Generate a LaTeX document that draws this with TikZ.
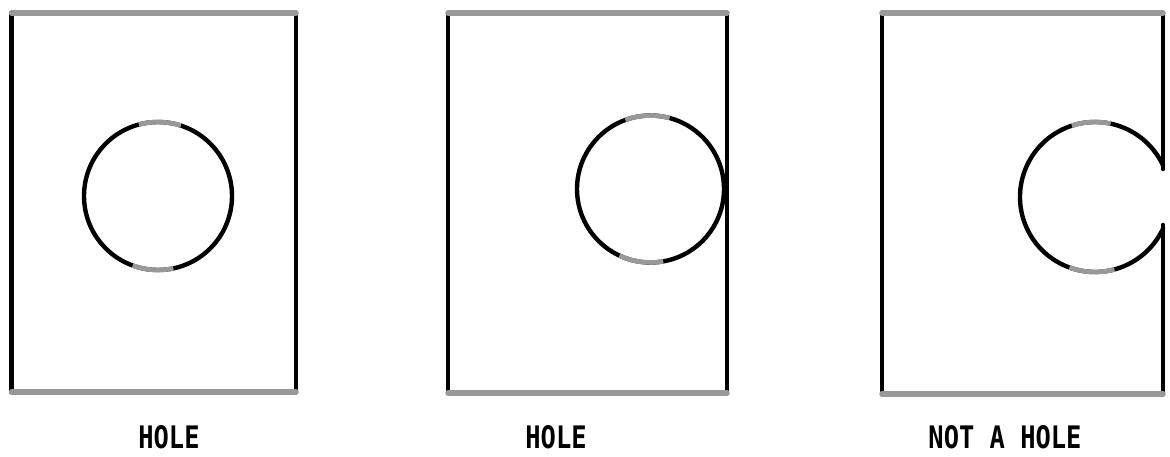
\documentclass[tikz,border=0pt]{standalone}
\usepackage{fontspec}
\newfontfamily\lblfont{DejaVu Sans Mono}[BoldFont={DejaVu Sans Mono Bold}]
\definecolor{scangray}{gray}{0.6}
\begin{document}
\begin{tikzpicture}[x=1pt,y=1pt,
  vline/.style={line width=4.6pt,black,line cap=round},
  hline/.style={line width=5.5pt,scangray,line cap=round},
  ring/.style={line width=4.4pt,black},
  ringgray/.style={line width=4.6pt,scangray},
  lbl/.style={inner sep=0pt,font=\lblfont\bfseries\fontsize{31}{31}\selectfont}]
\useasboundingbox (0,0) rectangle (1170,456);
% ---------- panel 1 ----------
\coordinate (p1tl) at (11.5,443);
\coordinate (p1tr) at (296,443);
\coordinate (p1bl) at (11.5,64);
\coordinate (p1br) at (296,64);
\draw[vline] (p1tl) -- (p1bl);
\draw[vline] (p1tr) -- (p1br);
\draw[hline] (p1tl) -- (p1tr);
\draw[hline] (p1bl) -- (p1br);
\coordinate (c1) at (158,260);
\draw[ring] (c1) circle[radius=74pt];
\draw[ringgray] ([shift={(72:74pt)}]c1) arc[start angle=72,end angle=105,radius=74pt];
\draw[ringgray] ([shift={(250:74pt)}]c1) arc[start angle=250,end angle=282,radius=74pt];
\node[lbl] (l1) at (169,19) {\scalebox{0.82}[1]{HOLE}};
% ---------- panel 2 ----------
\coordinate (p2tl) at (448,443);
\coordinate (p2tr) at (727,443);
\coordinate (p2bl) at (448,63);
\coordinate (p2br) at (727,63);
\draw[vline] (p2tl) -- (p2bl);
\draw[vline] (p2tr) -- (p2br);
\draw[hline] (p2tl) -- (p2tr);
\draw[hline] (p2bl) -- (p2br);
\coordinate (c2) at (650.5,267);
\draw[ring] (c2) circle[radius=73.5pt];
\draw[ringgray] ([shift={(75:73.5pt)}]c2) arc[start angle=75,end angle=110,radius=73.5pt];
\draw[ringgray] ([shift={(245:73.5pt)}]c2) arc[start angle=245,end angle=280,radius=73.5pt];
\node[lbl] (l2) at (556,19) {\scalebox{0.82}[1]{HOLE}};
% ---------- panel 3 ----------
\coordinate (p3tl) at (882,443);
\coordinate (p3tr) at (1163,443);
\coordinate (p3bl) at (882,62);
\coordinate (p3br) at (1163,62);
\coordinate (c3) at (1095,259);
\coordinate (cuspU) at (1163,287);
\coordinate (cuspL) at (1163,231);
\draw[vline] (p3tl) -- (p3bl);
\draw[vline] (p3tr) -- (cuspU);
\draw[vline] (cuspL) -- (p3br);
\draw[ring,line cap=round] ([shift={(24.9:75pt)}]c3)
  arc[start angle=24.9,end angle=335.1,radius=75pt];
\draw[hline] (p3tl) -- (p3tr);
\draw[hline] (p3bl) -- (p3br);
\draw[ringgray] ([shift={(78:75pt)}]c3) arc[start angle=78,end angle=108,radius=75pt];
\draw[ringgray] ([shift={(250:75pt)}]c3) arc[start angle=250,end angle=285,radius=75pt];
\node[lbl] (l3) at (1005,19) {\scalebox{0.82}[1]{NOT A HOLE}};
\end{tikzpicture}
\end{document}
